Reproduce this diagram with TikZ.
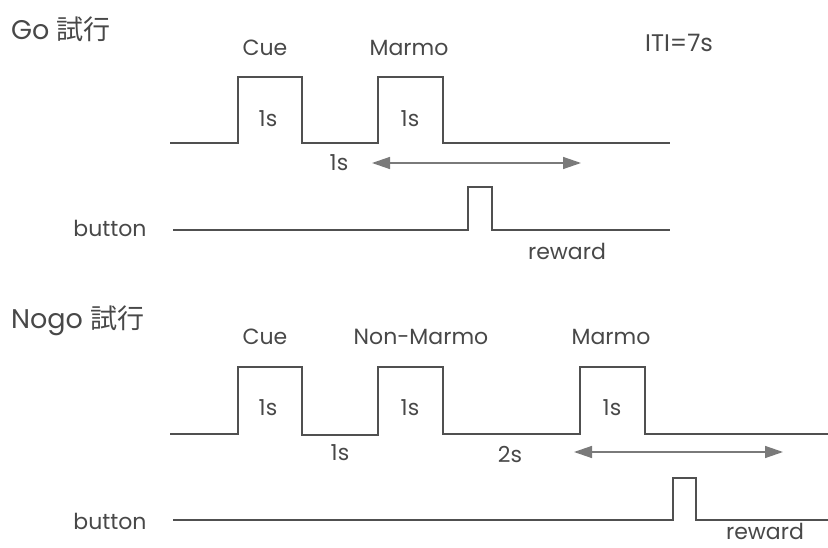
\documentclass[tikz,border=0pt]{standalone}
\usepackage{fontspec}
\setmainfont{Poppins}
\newfontfamily\cjk{Noto Sans CJK JP}
\usetikzlibrary{arrows.meta}
\definecolor{wavegray}{HTML}{505050}
\definecolor{arrowgray}{HTML}{7A7A7A}
\definecolor{txtgray}{HTML}{484848}
\begin{document}
\begin{tikzpicture}[x=1pt,y=-1pt,
  wave/.style={draw=wavegray, line width=1.4pt, line join=miter},
  lbl/.style={text=txtgray, font=\fontsize{22}{22}\selectfont, inner sep=0pt},
  ttl/.style={text=txtgray, font=\fontsize{27}{27}\selectfont, inner sep=0pt, anchor=west},
  durarrow/.style={draw=arrowgray, line width=1.4pt, {Triangle[length=18pt,width=12pt]}-{Triangle[length=18pt,width=12pt]}}]
\useasboundingbox (0,0) rectangle (828,548);

% ---------- Go trial ----------
\node[ttl] (gotitle) at (11,29) {Go {\cjk 試行}};
\node[lbl] (gocue) at (265,48) {Cue};
\node[lbl] (gomarmo) at (409,48) {Marmo};
\node[lbl, font=\fontsize{24}{24}\selectfont] (iti) at (679,43) {ITI=7s};

\coordinate (g0) at (170,143);
\coordinate (g1) at (238,143);
\coordinate (g1t) at (238,77);
\coordinate (g2t) at (302,77);
\coordinate (g2) at (302,143);
\coordinate (g3) at (378,143);
\coordinate (g3t) at (378,77);
\coordinate (g4t) at (443,77);
\coordinate (g4) at (443,143);
\coordinate (g5) at (670,143);
\draw[wave] (g0) -- (g1) -- (g1t) -- (g2t) -- (g2) -- (g3) -- (g3t) -- (g4t) -- (g4) -- (g5);

\node[lbl] (gos1) at (268,119) {1s};
\node[lbl] (gos2) at (410,119) {1s};
\node[lbl] (gogap) at (339,163) {1s};

\coordinate (ga1) at (372,163);
\coordinate (ga2) at (581,163);
\draw[durarrow] (ga1) -- (ga2);

\node[lbl] (gobutton) at (110,228) {button};
\coordinate (gb0) at (173,230);
\coordinate (gb1) at (468,230);
\coordinate (gb1t) at (468,187);
\coordinate (gb2t) at (492,187);
\coordinate (gb2) at (492,230);
\coordinate (gb3) at (670,230);
\draw[wave] (gb0) -- (gb1) -- (gb1t) -- (gb2t) -- (gb2) -- (gb3);
\node[lbl] (goreward) at (567,251) {reward};

% ---------- Nogo trial ----------
\node[ttl] (nogotitle) at (11,321) {Nogo {\cjk 試行}};
\node[lbl] (ncue) at (265,337) {Cue};
\node[lbl] (nnon) at (421,337) {Non-Marmo};
\node[lbl] (nmarmo) at (611,337) {Marmo};

\coordinate (n0) at (170,434);
\coordinate (n1) at (238,434);
\coordinate (n1t) at (238,367);
\coordinate (n2t) at (302,367);
\coordinate (n2) at (302,435);
\coordinate (n3) at (378,435);
\coordinate (n3t) at (378,367);
\coordinate (n4t) at (443,367);
\coordinate (n4) at (443,434);
\coordinate (n5) at (580,434);
\coordinate (n5t) at (580,367);
\coordinate (n6t) at (645,367);
\coordinate (n6) at (645,434);
\coordinate (n7) at (828,434);
\draw[wave] (n0) -- (n1) -- (n1t) -- (n2t) -- (n2) -- (n3) -- (n3t) -- (n4t) -- (n4) -- (n5) -- (n5t) -- (n6t) -- (n6) -- (n7);

\node[lbl] (ns1) at (268,408) {1s};
\node[lbl] (ns2) at (410,408) {1s};
\node[lbl] (ns3) at (612,408) {1s};
\node[lbl] (ngap1) at (340,453) {1s};
\node[lbl] (ngap2) at (510,455) {2s};

\coordinate (na1) at (574,452);
\coordinate (na2) at (783,452);
\draw[durarrow] (na1) -- (na2);

\node[lbl] (nbutton) at (110,521) {button};
\coordinate (nb0) at (173,520);
\coordinate (nb1) at (673,520);
\coordinate (nb1t) at (673,478);
\coordinate (nb2t) at (696,478);
\coordinate (nb2) at (696,520);
\coordinate (nb3) at (828,520);
\draw[wave] (nb0) -- (nb1) -- (nb1t) -- (nb2t) -- (nb2) -- (nb3);
\node[lbl] (nreward) at (765,531) {reward};
\end{tikzpicture}
\end{document}
